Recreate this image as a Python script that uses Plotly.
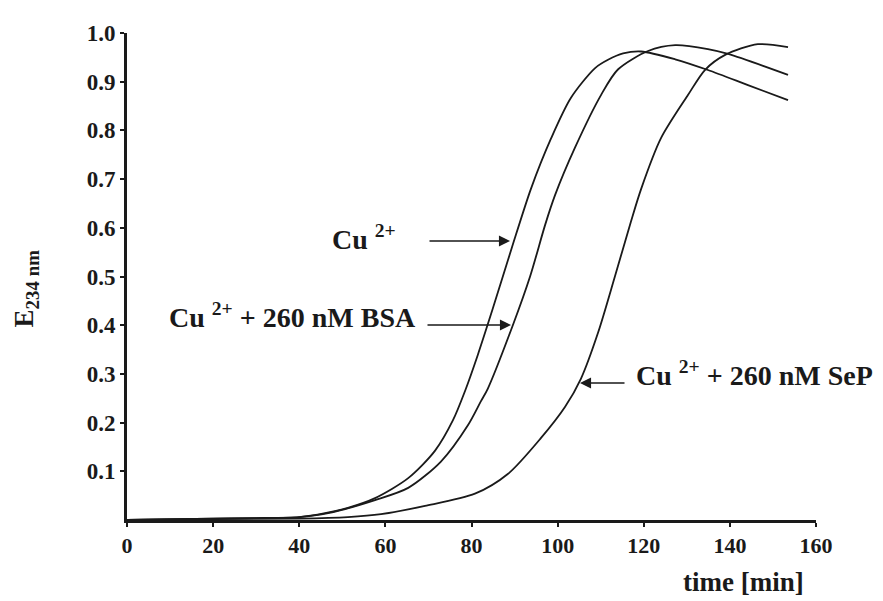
import plotly.graph_objects as go

# ---- data ----
t_cu = [0, 20, 30, 40, 46.0, 51.3, 57.6, 65.3, 71.5, 75.7, 78.5, 81.5, 84.8, 89.4, 93.8, 98.5,
        103.1, 108.7, 111.7, 115.2, 119.4, 127.3, 134.9, 144.2, 153.5]
e_cu = [0.0, 0.003, 0.004, 0.006, 0.014, 0.025, 0.045, 0.086, 0.142, 0.205, 0.265, 0.34, 0.43,
        0.56, 0.68, 0.784, 0.867, 0.928, 0.945, 0.958, 0.962, 0.946, 0.924, 0.893, 0.862]

t_bsa = [0, 20, 30, 40, 46.7, 57.6, 65.3, 72.9, 79.2, 82.2, 83.8, 89.6, 93.6, 97.1, 99.4, 104.0,
         110.1, 114.0, 121.0, 127.3, 134.9, 139.6, 153.5]
e_bsa = [0.0, 0.003, 0.004, 0.006, 0.014, 0.041, 0.066, 0.12, 0.195, 0.244, 0.27, 0.40, 0.50,
         0.606, 0.667, 0.764, 0.873, 0.925, 0.963, 0.975, 0.967, 0.957, 0.914]

t_sep = [0, 20, 40, 51.3, 59.0, 69.2, 80.8, 88.5, 96.1, 101.7, 105.4, 109.4, 113.3, 117.0, 119.4,
         124.0, 130.3, 134.2, 138.9, 146.5, 153.5]
e_sep = [0.0, 0.002, 0.003, 0.006, 0.012, 0.029, 0.054, 0.095, 0.168, 0.232, 0.29, 0.385, 0.50,
         0.612, 0.68, 0.784, 0.873, 0.924, 0.955, 0.977, 0.971]

x_ticks = [0, 20, 40, 60, 80, 100, 120, 140, 160]
y_ticks = [0.1, 0.2, 0.3, 0.4, 0.5, 0.6, 0.7, 0.8, 0.9, 1.0]
y_tick_text = ["0.1", "0.2", "0.3", "0.4", "0.5", "0.6", "0.7", "0.8", "0.9", "1.0"]
x_tick_text = [str(v) for v in x_ticks]

FONT = "Liberation Serif"
INK = "#1a1a1a"

fig = go.Figure()
for tx, ey, name in [(t_cu, e_cu, "Cu2+"), (t_bsa, e_bsa, "Cu2+ + 260 nM BSA"),
                     (t_sep, e_sep, "Cu2+ + 260 nM SeP")]:
    fig.add_trace(go.Scatter(x=tx, y=ey, mode="lines", name=name,
                             line=dict(color=INK, width=1.8, shape="spline", smoothing=0.8),
                             showlegend=False, hoverinfo="skip"))

# pixel -> data helpers (plot area: x 119..808, y 512..25)
def tx_(px):
    return (px - 119) / 689 * 160

def ey_(py):
    return (512 - py) / 487

lab_font = dict(family=FONT, size=28, color=INK)

annots = []
annots.append(dict(x=tx_(390), y=ey_(229), xref="x", yref="y", text="<b>Cu <sup>2+</sup></b>",
                   showarrow=False, xanchor="right", yanchor="middle", font=lab_font))
annots.append(dict(x=tx_(410), y=ey_(307), xref="x", yref="y",
                   text="<b>Cu <sup>2+</sup> + 260 nM BSA</b>",
                   showarrow=False, xanchor="right", yanchor="middle", font=lab_font))
annots.append(dict(x=tx_(626), y=ey_(365), xref="x", yref="y",
                   text="<b>Cu <sup>2+</sup> + 260 nM SeP</b>",
                   showarrow=False, xanchor="left", yanchor="middle", font=lab_font))
for (hx, hy, sx, sy) in [(502, 233, 420, 233), (503, 317, 418, 317), (572, 375, 618, 375)]:
    annots.append(dict(x=tx_(hx), y=ey_(hy), ax=tx_(sx), ay=ey_(sy), xref="x", yref="y",
                       axref="x", ayref="y", text="", showarrow=True, arrowhead=2,
                       arrowsize=1.7, arrowwidth=1.3, arrowcolor=INK))
annots.append(dict(x=-0.147, y=0.475, xref="paper", yref="paper",
                   text="<b>E<sub>234 nm</sub></b>",
                   showarrow=False, textangle=-90, xanchor="center", yanchor="middle",
                   font=dict(family=FONT, size=27, color=INK)))
annots.append(dict(x=tx_(735), y=-0.128, xref="x", yref="paper", text="<b>time [min]</b>",
                   showarrow=False, xanchor="center", yanchor="middle",
                   font=dict(family=FONT, size=27, color=INK)))

fig.update_layout(
    width=883, height=601,
    margin=dict(l=119, r=75, t=25, b=89),
    paper_bgcolor="white", plot_bgcolor="white",
    annotations=annots,
    xaxis=dict(range=[0, 160], tickvals=x_ticks, ticktext=x_tick_text, showgrid=False,
               zeroline=False, showline=True, linecolor=INK, linewidth=3,
               ticks="outside", ticklen=4, tickwidth=2, tickcolor=INK,
               tickfont=dict(family=FONT, size=22, color=INK, weight="bold")),
    yaxis=dict(range=[0, 1.0], tickvals=y_ticks, ticktext=y_tick_text, showgrid=False,
               zeroline=False, showline=True, linecolor=INK, linewidth=3,
               ticks="outside", ticklen=4, tickwidth=2, tickcolor=INK,
               tickfont=dict(family=FONT, size=23, color=INK, weight="bold")),
)

fig.write_html("out.html")
